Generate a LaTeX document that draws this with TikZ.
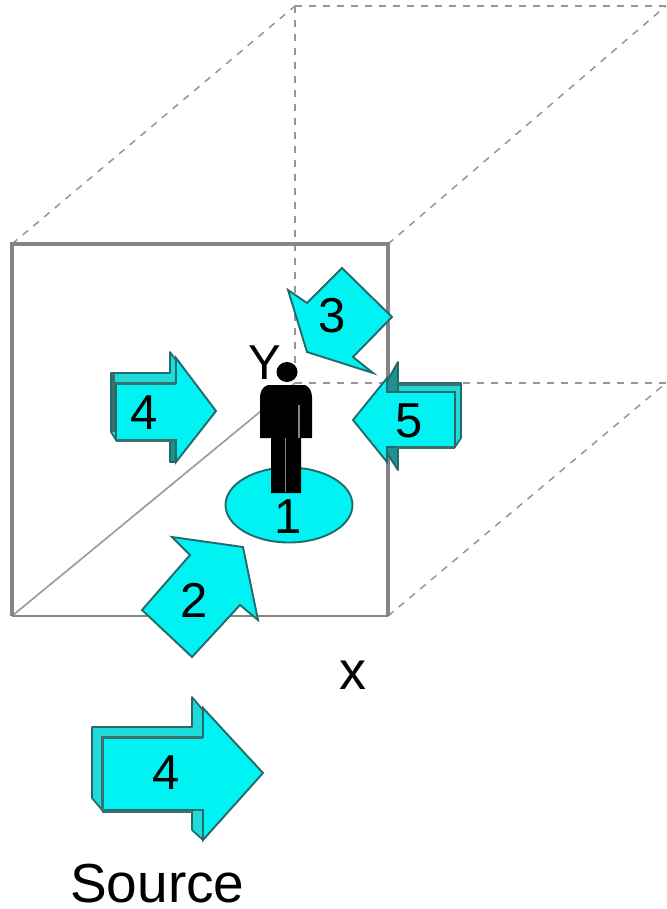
\documentclass[tikz,border=0pt]{standalone}
\usepackage{fontspec}
\usetikzlibrary{shapes.geometric}
\setmainfont{Liberation Sans}
\definecolor{fillc}{HTML}{00F2F2}
\definecolor{edge}{HTML}{256A6A}
\definecolor{sidec}{HTML}{1F8F8F}
\definecolor{sidel}{HTML}{20DADA}
\definecolor{frame}{HTML}{858585}
\definecolor{dashc}{HTML}{969696}
\tikzset{
  x=1pt,y=-1pt,
  framel/.style={draw=frame,line width=3.4pt},
  dashl/.style={draw=dashc,line width=1.5pt,dash pattern=on 7pt off 7pt},
  thinl/.style={draw=frame!80,line width=1.7pt},
  arrowf/.style={fill=fillc,draw=edge,line width=1.9pt,line join=miter},
  sidef/.style={fill=sidec,draw=edge,line width=1.9pt,line join=round},
  sidelt/.style={fill=sidel,draw=edge,line width=1.7pt,line join=round},
  shade/.style={draw=edge!75!gray,line width=3pt},
  lab/.style={inner sep=0pt,font=\fontsize{49}{49}\selectfont},
}
\begin{document}
\begin{tikzpicture}
\useasboundingbox (0,0) rectangle (666,909);
% depth of the room
\coordinate (fa) at (12,244);
\coordinate (fb) at (388,244);
\coordinate (fc) at (388,616);
\coordinate (fd) at (12,616);
\coordinate (ba) at (295,6);
\coordinate (bb) at (666,6);
\coordinate (bc) at (666,383);
\coordinate (bd) at (295,383);
\draw[dashl] (fa) -- (ba);
\draw[dashl] (ba) -- (bb);
\draw[dashl] (fb) -- (bb);
\draw[dashl] (fc) -- (bc);
\draw[dashl] (ba) -- (bd);
\draw[dashl] (bd) -- (bc);
\draw[thinl] (fd) -- (bd);
% front face
\draw[framel] (fd) -- (fa) -- (fb) -- (fc);
\draw[draw=frame,line width=2.6pt] (fd) -- (fc);
% floor disc
\node[ellipse,fill=fillc,draw=edge,line width=1.9pt,minimum width=127pt,minimum height=75pt,inner sep=0pt] (disc) at (289,505) {};
% arrow 3
\draw[arrowf] (288,290) -- (307,303) -- (342,268) -- (392,317) -- (353,357) -- (373,373) -- (307,352) -- cycle;
% arrow 2
\draw[arrowf] (172,537) -- (243,547) -- (258,620) -- (240,605) -- (192,657) -- (142,610) -- (190,555) -- cycle;
% small arrow 4
\draw[sidelt] (111,373) -- (170,373) -- (170,352) -- (176,360) -- (176,383) -- (116,383) -- (116,440) -- (111,432) -- cycle;
\draw[sidef] (170,440) -- (170,462) -- (176,462) -- (176,440) -- cycle;
\draw[arrowf] (116,383) -- (176,383) -- (176,358) -- (216,411) -- (176,462) -- (176,440) -- (116,440) -- cycle;
\draw[shade] (116,383) -- (176,383);
\draw[shade] (113,373) -- (113,432);
\draw[shade] (116,440) -- (176,440);
% arrow 5
\draw[sidef] (398,362) -- (385,385) -- (385,450) -- (398,470) -- cycle;
\draw[sidelt] (398,383) -- (461,383) -- (461,438) -- (455,447) -- (398,447) -- cycle;
\draw[arrowf] (353,420) -- (387,378) -- (387,392) -- (455,392) -- (455,447) -- (387,447) -- (387,462) -- cycle;
\fill[fillc] (380,394) rectangle (392,446);
\draw[shade] (398,447) -- (455,447);
\draw[shade] (398,384) -- (460,384);
% large arrow 4
\draw[sidelt] (92,727) -- (192,727) -- (192,697) -- (203,710) -- (203,737) -- (102,737) -- (102,810) -- (92,798) -- cycle;
\draw[sidelt] (192,810) -- (192,830) -- (203,840) -- (203,810) -- cycle;
\draw[arrowf] (102,737) -- (203,737) -- (203,708) -- (263,773) -- (203,840) -- (203,810) -- (102,810) -- cycle;
\draw[shade] (102,737) -- (203,737);
\draw[shade] (102,737) -- (102,810);
\draw[shade] (102,811) -- (192,811);
% person
\fill[black] (287,372) circle[x radius=10.5pt,y radius=10pt];
\fill[black] (268,385) -- (305,385) .. controls (310,387) and (312,392) .. (312,398) -- (312,438) -- (301,438) -- (301,493) -- (271,493) -- (271,438) -- (260,438) -- (260,398) .. controls (260,392) and (262,387) .. (268,385) -- cycle;
\draw[frame,line width=1.6pt] (285.5,438) -- (285.5,492);
\draw[frame,line width=1.4pt] (299,405) -- (299,438);
% labels
\node[lab] (ly) at (265,363) {Y};
\node[lab] (l1) at (288,517) {1};
\node[lab] (l2) at (194,600) {2};
\node[lab] (l3) at (332,316) {3};
\node[lab] (l4) at (144,413) {4};
\node[lab] (l5) at (409,421) {5};
\node[lab] (l4b) at (166,773) {4};
\node[lab,font=\fontsize{54}{54}\selectfont] (lx) at (353,675) {x};
\node[lab,font=\fontsize{55}{55}\selectfont,anchor=base west] (src) at (70,902) {Source};
\end{tikzpicture}
\end{document}
